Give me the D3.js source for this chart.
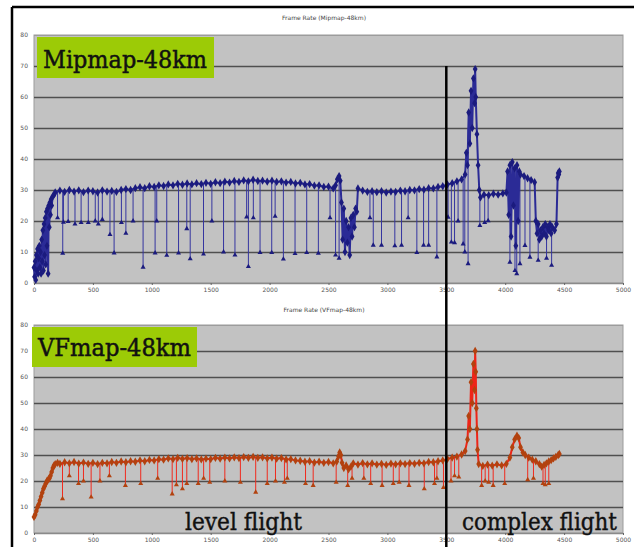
<!DOCTYPE html>
<html>
<head>
<meta charset="utf-8">
<script src="https://cdn.jsdelivr.net/npm/d3@7/dist/d3.min.js"></script>
<style>
  body { margin: 0; background: #fff; }
</style>
</head>
<body>
<div id="chart-area"></div>
<script>
// ---- data (frame number, frames per second) ----
var xTicks = [0, 500, 1000, 1500, 2000, 2500, 3000, 3500, 4000, 4500, 5000];
var yTicks = [0, 10, 20, 30, 40, 50, 60, 70, 80];
var markerFrame = 3500;   // level flight | complex flight

var mipmapFps = [
  [0,5],[5,2],[10,7],[15,1],[20,9],[25,4],[30,11],[35,3],[40,8],[45,12],[50,5],[55,10],[60,3],[65,14],
  [70,7],[75,17],[80,4],[85,19],[90,9],[95,21],[100,6],[105,23],[110,12],[115,24],[120,3],[125,25],
  [130,18],[135,26],[140,22],[145,27],[150,25],[160,28],[170,28.5],[180,29.2],
  [220,29.8],[260,29.4],[300,30.0],[340,29.5],[380,29.9],[420,29.3],[460,29.8],[500,29.6],[540,29.2],
  [580,29.9],[620,29.5],[660,29.7],[700,29.4],[740,30.0],[780,30.3],[820,30.0],[860,30.6],[900,30.9],
  [940,30.6],[980,31.2],[1020,31.0],[1060,31.5],[1100,31.3],[1140,31.8],[1180,31.5],[1220,32.0],
  [1260,31.7],[1300,32.1],[1340,31.8],[1380,32.2],[1420,31.9],[1460,32.3],[1500,32.0],[1540,32.5],
  [1580,32.2],[1620,32.7],[1660,32.4],[1700,32.9],[1740,32.6],[1780,33.1],[1820,32.8],[1860,33.3],
  [1900,32.9],[1940,33.0],[1980,32.7],[2020,33.0],[2060,32.6],[2100,32.8],[2140,32.4],[2180,32.6],
  [2220,32.1],[2260,32.3],[2300,31.8],[2340,31.9],[2380,31.4],[2420,31.5],[2460,31.0],[2500,31.1],
  [2540,30.5],[2560,31.5],[2575,33.5],[2590,34.5],[2600,33.0],[2610,26],[2620,14],[2630,24],[2640,10],
  [2650,20],[2660,13],[2670,18],[2680,9],[2690,21],[2700,15],[2710,22],[2720,18],[2730,24],[2740,23],
  [2750,30.5],[2790,29.8],[2830,29.4],[2870,29.6],[2910,29.3],[2950,29.6],[2990,29.2],[3030,29.5],
  [3070,29.4],[3110,29.8],[3150,29.6],[3190,30.0],[3230,29.9],[3270,30.3],[3310,30.1],[3350,30.6],
  [3390,30.5],[3430,31.0],[3470,31.2],[3510,31.8],[3550,32.2],[3590,32.8],[3630,33.4],[3660,35],
  [3670,42],[3680,38],[3690,55],[3700,45],[3710,62],[3720,50],[3730,66],[3740,58],[3745,69],[3750,60],
  [3760,48],[3770,38],[3780,30],[3790,27.6],[3820,28.5],[3860,28.3],[3900,28.8],[3940,28.5],[3980,28.9],
  [4010,29.2],[4020,36],[4030,22],[4040,38],[4050,15],[4060,39],[4070,25],[4080,37],[4090,12],[4100,38],
  [4110,20],[4120,36],[4130,35],[4160,34.5],[4190,33.8],[4220,33.2],[4250,32.5],[4260,20],[4270,16],
  [4280,19],[4290,14],[4300,17],[4310,15],[4320,18],[4330,16],[4340,19],[4350,15],[4360,18],[4370,17],
  [4380,19],[4390,16],[4400,18],[4420,17],[4435,19],[4445,34],[4450,35.5],[4455,35],[4460,36]
];

// drop-outs: [frame, fps before the drop, fps at the bottom]
var mipmapDips = [
  [200,29.5,21],[244,29.5,9.6],[250,29.6,19.6],[290,30,19.8],[348,29.7,19],[400,29.8,19.5],[461,29.8,19.5],
  [520,29.6,20],[546,29.4,19],[580,29.9,20.5],[645,29.6,15.6],[680,29.5,9.7],[742,30,19.5],[780,30.3,16],
  [841,30.4,20],[926,30.7,5.1],[1028,31.1,9.7],[1042,31.2,20],[1127,31.6,8.9],[1227,31.9,9.7],
  [1297,32,17.5],[1326,31.9,7.8],[1439,32,9.3],[1510,32.1,20],[1609,32.5,10],[1706,32.8,9],
  [1805,32.9,21.3],[1820,32.9,5.3],[1862,33.2,21],[1919,33,9.8],[2018,32.9,9.8],[2047,32.8,21.5],
  [2117,32.6,7.7],[2216,32.2,9.5],[2315,31.8,9.8],[2414,31.5,9.6],[2513,31,21],[2560,31.4,9],[2590,34,8],
  [2852,29.5,21],[2880,29.4,12.2],[2950,29.6,12.2],[3063,29.4,12],[3120,29.7,12.2],[3176,29.9,21],
  [3250,30,9.8],[3307,30.2,12.2],[3350,30.6,12.2],[3420,30.9,8.4],[3515,31.9,21.2],[3543,32.1,13.2],
  [3570,32.5,13],[3600,32.9,20],[3643,33.5,12.6],[3657,34,10],[3685,50,6.2],[3785,28,18.5],[3826,28.5,19.5],
  [3855,28.3,20.1],[4040,38,6.7],[4083,37,4],[4098,38,3],[4125,36,6.2],[4168,34.4,12.1],[4210,33.5,8.3],
  [4280,19,7.3],[4351,15,8],[4394,16,5.7]
];

var vfmapFps = [
  [0,6.2],[10,7],[20,8.5],[30,10],[40,11],[50,12.5],[60,14],[70,15.5],[80,17],[90,18],[100,19],[110,20],
  [120,20.5],[130,21],[140,22],[150,23.5],[160,25],[170,26],[180,26.5],[200,27],
  [220,26.6],[260,27.2],[300,26.8],[340,27.3],[380,26.7],[420,27.1],[460,26.6],[500,27],[540,26.5],
  [580,27],[620,26.8],[660,27.3],[700,27],[740,27.5],[780,27.2],[820,27.6],[860,27.4],[900,27.9],
  [940,27.6],[980,28.1],[1020,27.9],[1060,28.4],[1100,28.2],[1140,28.7],[1180,28.4],[1220,28.9],
  [1260,28.5],[1300,28.8],[1340,28.4],[1380,28.7],[1420,28.3],[1460,28.6],[1500,28.4],[1540,28.9],
  [1580,28.6],[1620,29.0],[1660,28.7],[1700,29.1],[1740,28.8],[1780,29.2],[1820,28.9],[1860,29.3],
  [1900,28.9],[1940,29.1],[1980,28.7],[2020,29.0],[2060,28.6],[2100,28.8],[2140,28.3],[2180,28.4],
  [2220,27.9],[2260,27.8],[2300,27.4],[2340,27.6],[2380,27.1],[2420,27.4],[2460,27.0],[2500,27.3],
  [2540,26.8],[2570,27.5],[2585,29.5],[2595,31],[2605,30],[2615,27],[2630,25],[2650,26],[2670,24.5],
  [2690,25.5],[2710,26.8],[2750,26.3],[2790,26.9],[2830,26.4],[2870,26.8],[2910,26.3],[2950,26.6],
  [2990,26.2],[3030,26.7],[3070,26.4],[3110,26.8],[3150,26.5],[3190,26.9],[3230,26.6],[3270,27.0],
  [3310,26.8],[3350,27.3],[3390,27.2],[3430,27.6],[3470,27.9],[3510,28.5],[3550,29.0],[3590,29.4],
  [3630,30.2],[3660,31.5],[3680,36],[3690,45],[3700,40],[3710,58],[3720,50],[3730,65],[3740,55],
  [3745,70],[3750,62],[3755,48],[3760,40],[3765,32],[3775,26.5],[3810,25.8],[3850,26.3],[3890,25.9],
  [3930,26.4],[3970,26.0],[4010,26.6],[4040,29],[4060,33],[4080,36],[4100,37.4],[4115,36.5],[4130,33],
  [4150,31],[4170,30],[4200,29],[4230,28.2],[4260,27.6],[4290,26.5],[4310,25.5],[4330,26.2],[4350,26.8],
  [4370,27.5],[4390,28],[4410,28.7],[4430,29.3],[4450,30],[4460,30.4]
];

var vfmapDips = [
  [242,27,13.2],[300,26.8,22],[378,26.8,19],[420,27.1,20],[485,27,13.8],[560,26.8,20],[640,27,22],
  [776,27.3,18.3],[906,27.8,19],[1050,28.3,21],[1173,28.5,15],[1209,28.8,18.5],[1260,28.5,17],
  [1297,28.8,19],[1394,28.6,19],[1440,28.5,21],[1492,28.5,19.5],[1620,29,20],[1752,29,19.5],
  [1882,29.1,15.7],[1980,28.7,19],[2050,28.9,20],[2126,28.5,19.5],[2150,28.4,21],[2305,27.5,19],
  [2370,27.2,18.3],[2565,27,19.5],[2663,25,18.3],[2700,26,21],[2800,26.8,21],[2858,26.7,19],
  [2955,26.6,18.3],[3050,26.5,19],[3100,26.7,19.5],[3183,26.9,18.3],[3313,26.9,17],[3400,27.2,19],
  [3420,27.3,21],[3476,27.9,17.5],[3540,28.8,20],[3570,29.2,22],[3606,29.5,21.5],[3800,26,18.3],
  [3830,26,20],[3860,26.1,19.5],[3898,26,18.3],[3996,26.5,19],[4191,29.2,20.5],[4240,28,21],
  [4321,26,19],[4340,26.5,18.5],[4370,27.5,19]
];

// ---- layout ----
var W = 634, H = 547;
var svg = d3.select("#chart-area").append("svg")
  .attr("width", W).attr("height", H);

// outer frame (top and left black edges)
svg.append("line").attr("x1", 12).attr("y1", 7).attr("x2", W).attr("y2", 7)
  .attr("stroke", "#000").attr("stroke-width", 2.5);
svg.append("line").attr("x1", 12).attr("y1", 7).attr("x2", 12).attr("y2", H)
  .attr("stroke", "#000").attr("stroke-width", 2.5);

var x = d3.scaleLinear().domain([0, 5000]).range([34, 623]);

var panels = [
  { title: "Frame Rate (Mipmap-48km)", titleY: 20, top: 35, bottom: 283,
    series: mipmapFps, dips: mipmapDips,
    lineColor: "#2b2b96", dotColor: "#1b1b7e", dipColor: "#3535a0",
    label: "Mipmap-48km", box: [37, 37, 177, 41], textX: 43, textY: 68, textLen: 164, textSize: 25 },
  { title: "Frame Rate (VFmap-48km)", titleY: 312, top: 325, bottom: 533,
    series: vfmapFps, dips: vfmapDips,
    lineColor: "#ee2418", dotColor: "#b2420f", dipColor: "#f02a1e",
    label: "VFmap-48km", box: [32, 327, 165, 40], textX: 38, textY: 356, textLen: 153, textSize: 24 }
];

panels.forEach(function(p) {
  var y = d3.scaleLinear().domain([0, 80]).range([p.bottom, p.top]);
  var g = svg.append("g");

  g.append("rect")
    .attr("x", x(0)).attr("y", y(80))
    .attr("width", x(5000) - x(0)).attr("height", y(0) - y(80))
    .attr("fill", "#c2c2c2").attr("stroke", "#9c9c9c").attr("stroke-width", 1);

  // gridlines + y labels
  var yAxis = d3.axisLeft(y).tickValues(yTicks).tickSize(-(x(5000) - x(0))).tickPadding(6);
  var gy = g.append("g").attr("transform", "translate(" + x(0) + ",0)").call(yAxis);
  gy.select(".domain").remove();
  gy.selectAll(".tick line")
    .attr("stroke", function(d) { return d === 80 ? "#9c9c9c" : (d === 0 ? "#8a8a8a" : "#4f4f4f"); })
    .attr("stroke-width", function(d) { return d === 80 ? 1 : 1.6; });
  gy.selectAll(".tick text")
    .attr("font-family", "DejaVu Sans").attr("font-size", 6).attr("fill", "#555");

  // x axis
  var xAxis = d3.axisBottom(x).tickValues(xTicks).tickSize(2).tickPadding(3)
    .tickFormat(d3.format("d"));
  var gx = g.append("g").attr("transform", "translate(0," + y(0) + ")").call(xAxis);
  gx.select(".domain").attr("stroke", "#8a8a8a");
  gx.selectAll(".tick line").attr("stroke", "#666");
  gx.selectAll(".tick text")
    .attr("font-family", "DejaVu Sans").attr("font-size", 6).attr("fill", "#555");

  // chart title
  g.append("text")
    .attr("x", 324).attr("y", p.titleY)
    .attr("text-anchor", "middle")
    .attr("font-family", "DejaVu Sans").attr("font-size", 6).attr("fill", "#444")
    .text(p.title);

  // drop-out lines
  g.selectAll(".dip").data(p.dips).enter().append("line")
    .attr("x1", function(d) { return x(d[0]); }).attr("x2", function(d) { return x(d[0]); })
    .attr("y1", function(d) { return y(d[1]); }).attr("y2", function(d) { return y(d[2]); })
    .attr("stroke", p.dipColor).attr("stroke-width", 1);

  // main series
  var line = d3.line().x(function(d) { return x(d[0]); }).y(function(d) { return y(d[1]); });
  g.append("path").datum(p.series)
    .attr("d", line).attr("fill", "none")
    .attr("stroke", p.lineColor).attr("stroke-width", 2);

  var sym = d3.symbol().type(d3.symbolDiamond).size(20);
  g.selectAll(".pt").data(p.series).enter().append("path")
    .attr("d", sym)
    .attr("transform", function(d) { return "translate(" + x(d[0]) + "," + y(d[1]) + ")"; })
    .attr("fill", p.dotColor);
  var tri = d3.symbol().type(d3.symbolTriangle).size(11);
  g.selectAll(".dipPt").data(p.dips).enter().append("path")
    .attr("d", tri)
    .attr("transform", function(d) { return "translate(" + x(d[0]) + "," + y(d[2]) + ")"; })
    .attr("fill", p.dotColor);

  // green name tag
  g.append("rect")
    .attr("x", p.box[0]).attr("y", p.box[1]).attr("width", p.box[2]).attr("height", p.box[3])
    .attr("fill", "#9ccb06");
  g.append("text")
    .attr("x", p.textX).attr("y", p.textY)
    .attr("font-family", "DejaVu Serif").attr("font-size", p.textSize)
    .attr("textLength", p.textLen).attr("lengthAdjust", "spacingAndGlyphs")
    .attr("fill", "#111").attr("stroke", "#111").attr("stroke-width", 0.5)
    .text(p.label);

  p.y = y;
});

// divider between level flight and complex flight
svg.append("line")
  .attr("x1", x(markerFrame)).attr("x2", x(markerFrame))
  .attr("y1", panels[0].y(70)).attr("y2", H)
  .attr("stroke", "#000").attr("stroke-width", 2.5);

svg.append("text").attr("x", 185).attr("y", 530)
  .attr("font-family", "DejaVu Serif").attr("font-size", 24)
  .attr("textLength", 117).attr("lengthAdjust", "spacingAndGlyphs")
  .attr("fill", "#111").attr("stroke", "#111").attr("stroke-width", 0.4)
  .text("level flight");
svg.append("text").attr("x", 462).attr("y", 530)
  .attr("font-family", "DejaVu Serif").attr("font-size", 24)
  .attr("textLength", 155).attr("lengthAdjust", "spacingAndGlyphs")
  .attr("fill", "#111").attr("stroke", "#111").attr("stroke-width", 0.4)
  .text("complex flight");
</script>
</body>
</html>
